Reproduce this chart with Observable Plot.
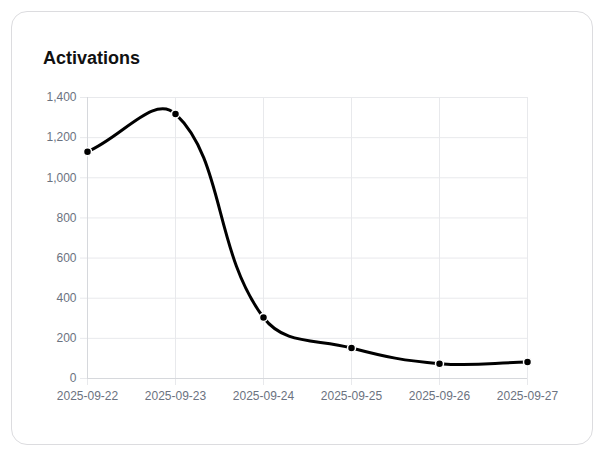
<!DOCTYPE html>
<html>
<head>
<meta charset="utf-8">
<script src="https://cdn.jsdelivr.net/npm/d3@7"></script>
<script src="https://cdn.jsdelivr.net/npm/@observablehq/plot@0.6"></script>
<style>
  html, body { margin: 0; padding: 0; background: #fff; width: 602px; height: 457px; overflow: hidden; }
  #card { position: absolute; left: 11px; top: 11px; width: 580px; height: 432px; border: 1px solid #dcdcdf; border-radius: 16px; background: #fff; }
  #title { position: absolute; left: 43px; top: 48px; font-family: "Liberation Sans", Arial, Helvetica, sans-serif; font-weight: bold; font-size: 18px; color: #111; }
  #chart { position: absolute; left: 0; top: 80px; }
  #chart svg { display: block; }
</style>
</head>
<body>
<div id="card"></div>
<div id="title">Activations</div>
<div id="chart"></div>
<script>
const dates = ["2025-09-22", "2025-09-23", "2025-09-24", "2025-09-25", "2025-09-26", "2025-09-27"];
const activations = [1130, 1318, 304, 152, 74, 82];
const yTicks = [0, 200, 400, 600, 800, 1000, 1200, 1400];

const data = dates.map((d, i) => ({date: d, value: activations[i]}));

// Chart.js-style spline (tension 0.4) as a d3 curve factory
function chartJsCurve(context) {
  let pts = [];
  const t = 0.4;
  return {
    areaStart() {}, areaEnd() {},
    lineStart() { pts = []; },
    point(x, y) { pts.push({x: +x, y: +y}); },
    lineEnd() {
      const n = pts.length;
      if (!n) return;
      const cps = pts.map((cur, i) => {
        const prev = i > 0 ? pts[i - 1] : cur;
        const next = i < n - 1 ? pts[i + 1] : cur;
        const d01 = Math.hypot(cur.x - prev.x, cur.y - prev.y);
        const d12 = Math.hypot(next.x - cur.x, next.y - cur.y);
        let s01 = d01 / (d01 + d12), s12 = d12 / (d01 + d12);
        if (!isFinite(s01)) s01 = 0;
        if (!isFinite(s12)) s12 = 0;
        const fa = t * s01, fb = t * s12;
        return {
          px: cur.x - fa * (next.x - prev.x), py: cur.y - fa * (next.y - prev.y),
          nx: cur.x + fb * (next.x - prev.x), ny: cur.y + fb * (next.y - prev.y)
        };
      });
      context.moveTo(pts[0].x, pts[0].y);
      for (let i = 1; i < n; i++) {
        context.bezierCurveTo(cps[i - 1].nx, cps[i - 1].ny, cps[i].px, cps[i].py, pts[i].x, pts[i].y);
      }
    }
  };
}

const gridColor = "#e8e9ec";
const axisColor = "#d6d8dc";
const textColor = "#6b7280";

const chart = Plot.plot({
  width: 602,
  height: 338,
  marginLeft: 87,
  marginRight: 75,
  marginTop: 17,
  marginBottom: 40,
  style: {fontFamily: "'Liberation Sans', Arial, Helvetica, sans-serif", fontSize: "12px", background: "transparent"},
  x: {type: "point", domain: dates, padding: 0},
  y: {domain: [0, 1400]},
  marks: [
    Plot.gridX(dates, {stroke: gridColor, strokeOpacity: 1}),
    Plot.gridY(yTicks, {stroke: gridColor, strokeOpacity: 1}),
    Plot.axisY(yTicks, {tickFormat: d3.format(","), tickSize: 7, tickPadding: 4, stroke: gridColor, fill: textColor, label: null}),
    Plot.axisX(dates, {tickSize: 7, tickPadding: 6, stroke: gridColor, fill: textColor, label: null}),
    Plot.ruleY([0], {stroke: axisColor}),
    Plot.ruleX([dates[0]], {stroke: axisColor}),
    Plot.line(data, {x: "date", y: "value", curve: chartJsCurve, stroke: "#000", strokeWidth: 3}),
    Plot.dot(data, {x: "date", y: "value", r: 4, fill: "#000", stroke: "#fff", strokeWidth: 1.5})
  ]
});
document.getElementById("chart").appendChild(chart);
</script>
</body>
</html>
